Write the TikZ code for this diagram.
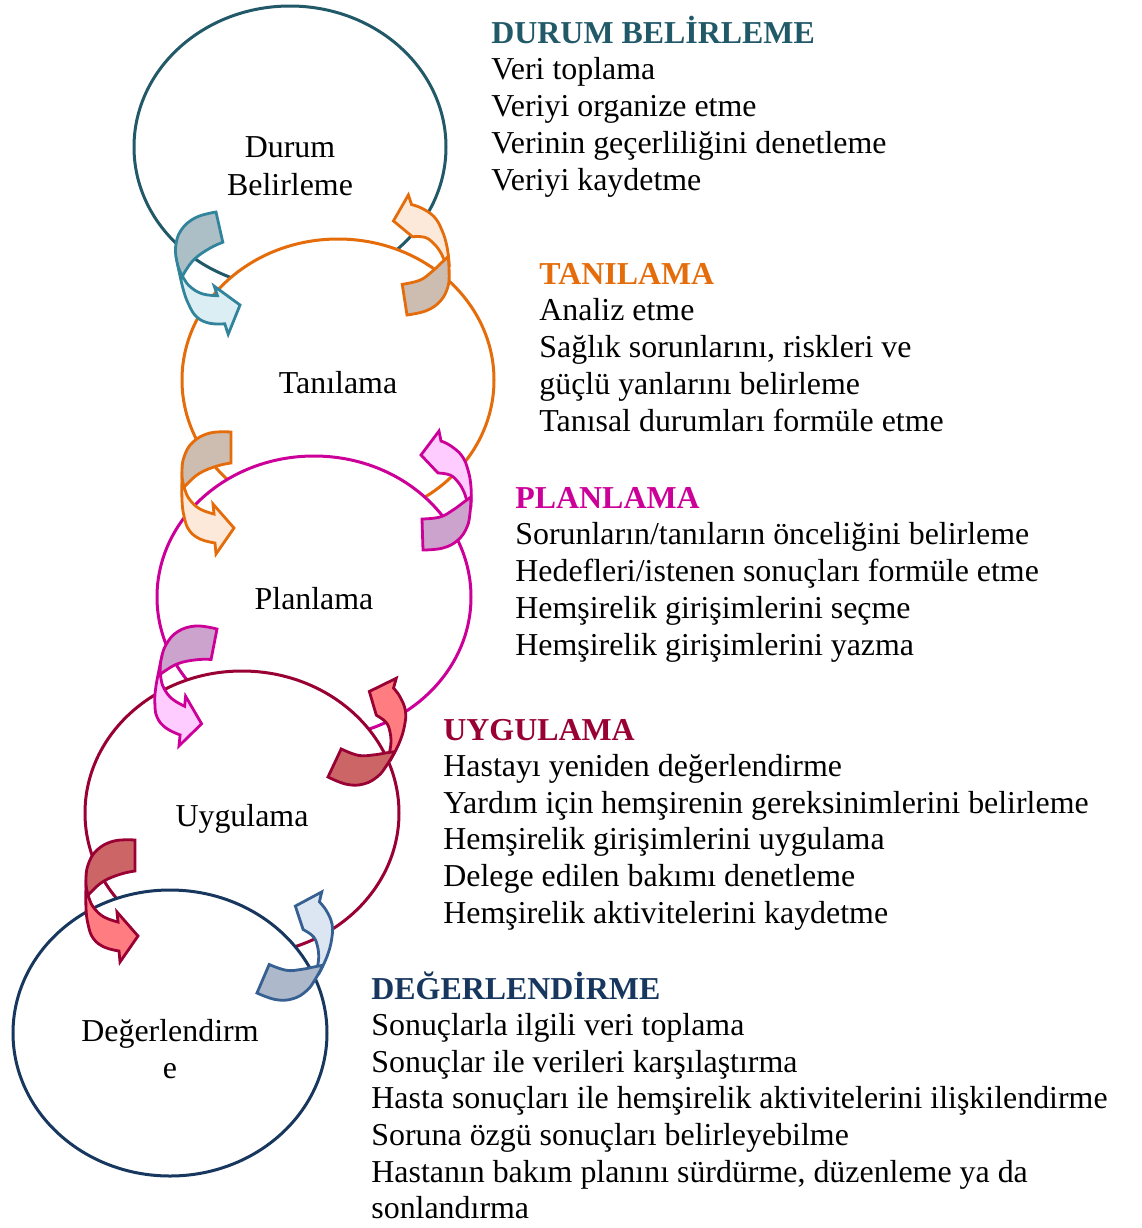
\documentclass[tikz,border=0pt]{standalone}
\usepackage{fontspec}
\setmainfont{Liberation Serif}
\definecolor{cteal}{HTML}{215968}
\definecolor{ctealA}{HTML}{31849B}
\definecolor{ctealD}{HTML}{ADBFC6}
\definecolor{ctealL}{HTML}{DAEEF3}
\definecolor{corange}{HTML}{E46C0A}
\definecolor{corangeD}{HTML}{CDBCB0}
\definecolor{corangeL}{HTML}{FDE9D9}
\definecolor{cmag}{HTML}{CC0099}
\definecolor{cmagD}{HTML}{CCA3CC}
\definecolor{cmagL}{HTML}{FFCCFF}
\definecolor{cred}{HTML}{990033}
\definecolor{credD}{HTML}{CC6666}
\definecolor{credL}{HTML}{FF7C80}
\definecolor{cnavy}{HTML}{17375E}
\definecolor{cnavyA}{HTML}{376092}
\definecolor{cnavyD}{HTML}{ADB9CA}
\definecolor{cnavyL}{HTML}{DCE6F2}

\newcommand\downarrowshape[6]{%
  \begin{scope}[shift={(#1,#2)}, rotate=#3]
    \filldraw[arrpart, draw=#4, fill=#5] (0,31) -- (0,0)
      -- plot[smooth, tension=0.7] coordinates {(0,0) (-21,1) (-38,10) (-47,25) (-49,41) (-48,57)}
      -- plot[smooth, tension=0.7] coordinates {(-48,57) (-43,51) (-31,41) (-14,34) (0,31)} -- cycle;
    \filldraw[arrpart, draw=#4, fill=#6] (-49,46)
      -- plot[smooth, tension=0.7] coordinates {(-49,46) (-49,68) (-47,84) (-42,98) (-31,107) (-16,111)}
      -- (-15,122) -- (3,96) -- (-18,72) -- (-17,82)
      -- plot[smooth, tension=0.7] coordinates {(-17,82) (-31,77) (-41,68) (-46,58) (-49,46)} -- cycle;
  \end{scope}}

\newcommand\uparrowshape[6]{%
  \begin{scope}[shift={(#1,#2)}, rotate=#3]
    \filldraw[arrpart, draw=#4, fill=#6] (48,-45)
      -- plot[smooth, tension=0.7] coordinates {(48,-45) (48,-63) (45,-80) (39,-94) (28,-104) (18,-109)}
      -- (16,-119) -- (-2,-95) -- (15,-77)
      -- plot[smooth, tension=0.7] coordinates {(15,-77) (27,-75) (35,-68) (41,-58) (44,-48)} -- cycle;
    \filldraw[arrpart, draw=#4, fill=#5] (0,0)
      -- plot[smooth, tension=0.7] coordinates {(0,0) (20,-2) (35,-10) (44,-23) (47,-37) (48,-53)}
      -- plot[smooth, tension=0.7] coordinates {(48,-53) (41,-48) (30,-40) (17,-33) (-1,-31)} -- cycle;
  \end{scope}}

\begin{document}
\begin{tikzpicture}[x=0.5pt, y=-0.5pt,
  ring/.style={line width=1.5pt, fill=white},
  arrpart/.style={line width=1.4pt, line join=miter},
  body/.style={anchor=base west, inner sep=0pt, font=\fontsize{15.95}{18}\selectfont},
  head/.style={anchor=base west, inner sep=0pt, font=\fontsize{15.95}{18}\selectfont\bfseries},
  lbl/.style={anchor=base, inner sep=0pt, font=\fontsize{15.95}{18}\selectfont}]
\useasboundingbox (0,0) rectangle (1142,1228);

% rings
\draw[ring, draw=cteal]   (290,147)  ellipse [x radius=156, y radius=141];
\draw[ring, draw=corange] (338,380)  ellipse [x radius=156, y radius=141];
\draw[ring, draw=cmag]    (314,597)  ellipse [x radius=157, y radius=141];
\draw[ring, draw=cred]    (242,813)  ellipse [x radius=157, y radius=142];
\draw[ring, draw=cnavy]   (170,1033) ellipse [x radius=157, y radius=143];

% ring labels
\node[lbl] (r1a) at (290,157) {Durum};
\node[lbl] (r1b) at (290,195) {Belirleme};
\node[lbl] (r2) at (338,393) {Tanılama};
\node[lbl] (r3) at (314,609) {Planlama};
\node[lbl] (r4) at (242,826) {Uygulama};
\node[lbl] (r5a) at (170,1041) {Değerlendirm};
\node[lbl] (r5b) at (170,1078) {e};

% circular arrows
\downarrowshape{216}{212}{12.7}{ctealA}{ctealD}{ctealL}
\uparrowshape{407}{315}{7}{corange}{corangeD}{corangeL}
\downarrowshape{231}{432}{0}{corange}{corangeD}{corangeL}
\uparrowshape{423}{550}{0}{cmag}{cmagD}{cmagL}
\downarrowshape{217}{629}{-11}{cmag}{cmagD}{cmagL}
\uparrowshape{328}{777}{-27}{cred}{credD}{credL}
\downarrowshape{135}{840}{0}{cred}{credD}{credL}
\uparrowshape{257}{993}{-25}{cnavyA}{cnavyD}{cnavyL}

% text blocks
\node[head, text=cteal] (h1) at (491,43) {DURUM BELİRLEME};
\foreach \t [count=\i] in {Veri toplama, Veriyi organize etme, Verinin geçerliliğini denetleme, Veriyi kaydetme}
  \node[body] (t1\i) at (491,{43+36.8*\i}) {\t};

\node[head, text=corange] (h2) at (539,284) {TANILAMA};
\foreach \t [count=\i] in {Analiz etme, {Sağlık sorunlarını, riskleri ve}, güçlü yanlarını belirleme, Tanısal durumları formüle etme}
  \node[body] (t2\i) at (539,{284+36.8*\i}) {\t};

\node[head, text=cmag] (h3) at (515,508) {PLANLAMA};
\foreach \t [count=\i] in {Sorunların/tanıların önceliğini belirleme, Hedefleri/istenen sonuçları formüle etme, Hemşirelik girişimlerini seçme, Hemşirelik girişimlerini yazma}
  \node[body] (t3\i) at (515,{508+36.8*\i}) {\t};

\node[head, text=cred] (h4) at (443,740) {UYGULAMA};
\foreach \t [count=\i] in {Hastayı yeniden değerlendirme, Yardım için hemşirenin gereksinimlerini belirleme, Hemşirelik girişimlerini uygulama, Delege edilen bakımı denetleme, Hemşirelik aktivitelerini kaydetme}
  \node[body] (t4\i) at (443,{740+36.6*\i}) {\t};

\node[head, text=cnavy] (h5) at (371,999) {DEĞERLENDİRME};
\foreach \t [count=\i] in {Sonuçlarla ilgili veri toplama, Sonuçlar ile verileri karşılaştırma, Hasta sonuçları ile hemşirelik aktivitelerini ilişkilendirme, Soruna özgü sonuçları belirleyebilme, {Hastanın bakım planını sürdürme, düzenleme ya da}, sonlandırma}
  \node[body] (t5\i) at (371,{999+36.6*\i}) {\t};
\end{tikzpicture}
\end{document}
